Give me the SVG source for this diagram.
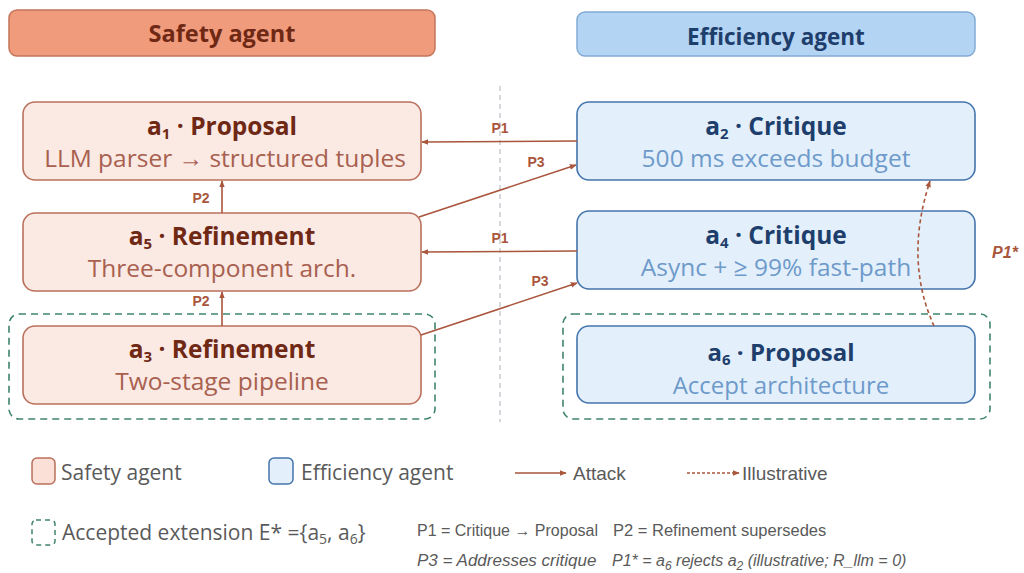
<svg xmlns="http://www.w3.org/2000/svg" width="1024" height="573" viewBox="0 0 1024 573">
<defs>
<style>
.sf{fill:#FBE9E4;stroke:#B9705C;stroke-width:1.6}
.ef{fill:#E3F0FC;stroke:#4474AB;stroke-width:1.6}
.st{font-family:"Open Sans","Liberation Sans",sans-serif;font-weight:bold;font-size:24.5px;fill:#6E2814;text-anchor:middle}
.ss{font-family:"Open Sans","Liberation Sans",sans-serif;font-size:24.5px;fill:#A8604F;text-anchor:middle}
.et{font-family:"Open Sans","Liberation Sans",sans-serif;font-weight:bold;font-size:24.5px;fill:#1E3E6C;text-anchor:middle}
.es{font-family:"Open Sans","Liberation Sans",sans-serif;font-size:24.5px;fill:#6E9ACA;text-anchor:middle}
.ext{fill:none;stroke:#3F8470;stroke-width:1.6;stroke-dasharray:7 5}
.att{stroke:#A9563D;stroke-width:1.6;fill:none}
.lbl{font-family:"Liberation Sans",Arial,sans-serif;font-weight:bold;font-size:14px;fill:#A9563D;text-anchor:middle}
.leg{font-family:"Open Sans","Liberation Sans",sans-serif;font-size:21px;fill:#5A5A5A}
.key{font-family:"Liberation Sans",Arial,sans-serif;font-size:16.5px;fill:#5A5A5A}
.sub{font-size:15px}
</style>
<marker id="ah" viewBox="0 0 10 10" refX="9" refY="5" markerWidth="7" markerHeight="7" orient="auto" markerUnits="userSpaceOnUse"><path d="M0,1 L10,5 L0,9 z" fill="#A9563D"/></marker>
</defs>
<rect width="1024" height="573" fill="#FFFFFF"/>

<g id="header-safety">
<rect x="9" y="10" width="426" height="46" rx="8" fill="#EF9B7C" stroke="#C47559" stroke-width="1.5"/>
<text x="222" y="42" class="st" style="font-size:23.5px">Safety agent</text>
</g>
<g id="header-efficiency">
<rect x="577" y="12" width="398" height="44" rx="8" fill="#B4D4F3" stroke="#82AAD4" stroke-width="1.5"/>
<text x="776" y="45" class="et" style="font-size:22.5px">Efficiency agent</text>
</g>

<line x1="500" y1="86" x2="500" y2="422" stroke="#BFC4CA" stroke-width="1.3" stroke-dasharray="5 4"/>

<g id="ext-left"><rect x="9" y="314" width="426" height="105" rx="10" class="ext"/></g>
<g id="ext-right"><rect x="563" y="314" width="427" height="105" rx="10" class="ext"/></g>

<g id="a1">
<rect x="23" y="102" width="398" height="78" rx="12" class="sf"/>
<text x="222" y="135" class="st">a<tspan class="sub" dy="4">1</tspan><tspan dy="-4"> · Proposal</tspan></text>
<text x="225" y="167" class="ss">LLM parser → structured tuples</text>
</g>
<g id="a5">
<rect x="23" y="213" width="398" height="78" rx="12" class="sf"/>
<text x="222" y="245" class="st">a<tspan class="sub" dy="4">5</tspan><tspan dy="-4"> · Refinement</tspan></text>
<text x="222" y="277" class="ss">Three-component arch.</text>
</g>
<g id="a3">
<rect x="23" y="326" width="398" height="78" rx="12" class="sf"/>
<text x="222" y="358" class="st">a<tspan class="sub" dy="4">3</tspan><tspan dy="-4"> · Refinement</tspan></text>
<text x="222" y="390" class="ss">Two-stage pipeline</text>
</g>
<g id="a2">
<rect x="577" y="102" width="398" height="78" rx="12" class="ef"/>
<text x="776" y="135" class="et">a<tspan class="sub" dy="4">2</tspan><tspan dy="-4"> · Critique</tspan></text>
<text x="776" y="167" class="es">500 ms exceeds budget</text>
</g>
<g id="a4">
<rect x="577" y="211" width="398" height="78" rx="12" class="ef"/>
<text x="776" y="244" class="et">a<tspan class="sub" dy="4">4</tspan><tspan dy="-4"> · Critique</tspan></text>
<text x="776" y="276" class="es">Async + ≥ 99% fast-path</text>
</g>
<g id="a6">
<rect x="577" y="326" width="398" height="77" rx="12" class="ef"/>
<text x="781" y="361" class="et" style="font-size:24px">a<tspan class="sub" dy="4">6</tspan><tspan dy="-4"> · Proposal</tspan></text>
<text x="781" y="394" class="es" style="font-size:24px">Accept architecture</text>
</g>

<g id="connectors">
<line x1="577" y1="141" x2="422" y2="142" class="att" marker-end="url(#ah)"/>
<text x="500" y="133" class="lbl">P1</text>
<line x1="419" y1="217" x2="576" y2="165" class="att" marker-end="url(#ah)"/>
<text x="536" y="167" class="lbl">P3</text>
<line x1="577" y1="251" x2="422" y2="252" class="att" marker-end="url(#ah)"/>
<text x="500" y="243" class="lbl">P1</text>
<line x1="421" y1="335" x2="577" y2="283" class="att" marker-end="url(#ah)"/>
<text x="540" y="286" class="lbl">P3</text>
<line x1="222" y1="213" x2="222" y2="181" class="att" marker-end="url(#ah)"/>
<text x="201" y="203" class="lbl">P2</text>
<line x1="222" y1="326" x2="222" y2="292" class="att" marker-end="url(#ah)"/>
<text x="201" y="306" class="lbl">P2</text>
<path d="M934,326 Q904,260 930,181" class="att" stroke-dasharray="4 3" stroke-width="1.4" marker-end="url(#ah)"/>
<text x="1005" y="258" class="lbl" style="font-style:italic;font-size:16px">P1*</text>
</g>

<g id="legend">
<rect x="32" y="458" width="23" height="26" rx="5" fill="#FBE0D8" stroke="#B9705C" stroke-width="1.5"/>
<text x="61" y="480" class="leg">Safety agent</text>
<rect x="269" y="458" width="24" height="26" rx="5" fill="#E3F0FC" stroke="#4474AB" stroke-width="1.5"/>
<text x="301" y="480" class="leg">Efficiency agent</text>
<line x1="515" y1="473" x2="566" y2="473" class="att" marker-end="url(#ah)"/>
<text x="573" y="480" class="leg" style="font-family:'Liberation Sans',sans-serif;font-size:19px">Attack</text>
<line x1="687" y1="473" x2="739" y2="473" class="att" stroke-dasharray="3 2" marker-end="url(#ah)"/>
<text x="742" y="480" class="leg" style="font-family:'Liberation Sans',sans-serif;font-size:19px">Illustrative</text>
<rect x="32" y="520" width="23" height="25" rx="4" fill="none" stroke="#3F8470" stroke-width="1.5" stroke-dasharray="5 4"/>
<text x="62" y="540" class="leg">Accepted extension E* ={a<tspan style="font-size:14px" dy="4">5</tspan><tspan dy="-4">, a</tspan><tspan style="font-size:14px" dy="4">6</tspan><tspan dy="-4">}</tspan></text>
<text x="417" y="536" class="key" style="font-size:16px">P1 = Critique → Proposal</text>
<text x="613" y="536" class="key">P2 = Refinement supersedes</text>
<text x="417" y="566" class="key" style="font-style:italic;font-size:17px">P3 = Addresses critique</text>
<text x="612" y="566" class="key" style="font-style:italic;font-size:16px">P1* = a<tspan style="font-size:12px" dy="4">6</tspan><tspan dy="-4"> rejects a</tspan><tspan style="font-size:12px" dy="4">2</tspan><tspan dy="-4"> (illustrative; R_llm = 0)</tspan></text>
</g>
</svg>
